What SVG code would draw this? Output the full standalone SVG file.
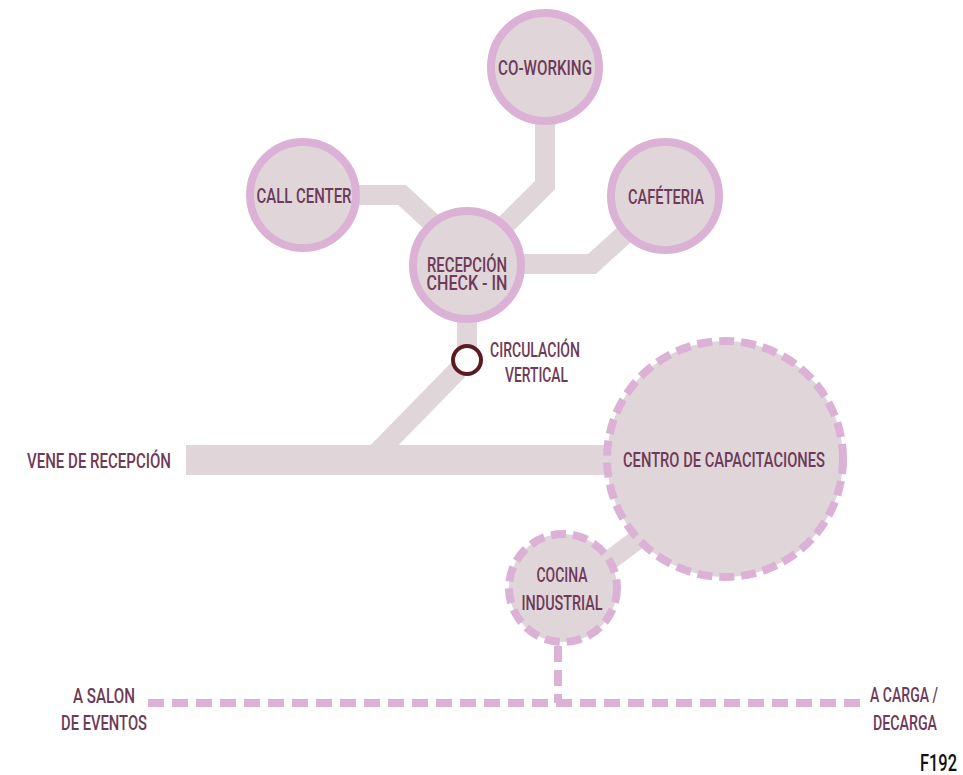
<svg xmlns="http://www.w3.org/2000/svg" width="963" height="775" viewBox="0 0 963 775">
<style>
.lbl{font-family:Roboto,"Liberation Sans",sans-serif;font-weight:500;font-size:20.5px;fill:#6e3a58;text-anchor:middle}
.lft{text-anchor:start}
.rgt{text-anchor:end}
.node{fill:#e0d6d9;stroke:#dcb1d6;stroke-width:8}
.dash{fill:#e0d6d9;stroke:#dcb1d6;stroke-width:8;stroke-dasharray:15 7}
.conn{fill:none;stroke:#e0d6d9;stroke-width:20}
.dline{fill:none;stroke:#dcb1d6;stroke-width:8;stroke-dasharray:16 8}
</style>
<rect width="963" height="775" fill="#ffffff"/>
<g id="connectors">
<polyline class="conn" points="545,115 545,185 495,235"/>
<polyline class="conn" points="355,195 402,195 440,230"/>
<polyline class="conn" points="635,225 592,264 520,264"/>
<polyline class="conn" points="467,318 467,350"/>
<polyline class="conn" points="458,370 370,460"/>
<rect x="186" y="445" width="430" height="30" fill="#e0d6d9"/>
<polyline class="conn" points="650,530 590,575"/>
<polyline class="dline" points="558,646 558,703"/>
<line class="dline" x1="148" y1="703" x2="864" y2="703"/>
</g>
<g id="co-working"><circle class="node" cx="545" cy="67" r="54"/><text class="lbl" x="545" y="75" textLength="94" lengthAdjust="spacingAndGlyphs">CO-WORKING</text></g>
<g id="call-center"><circle class="node" cx="303" cy="195" r="53"/><text class="lbl" x="304" y="203" textLength="95" lengthAdjust="spacingAndGlyphs">CALL CENTER</text></g>
<g id="cafeteria"><circle class="node" cx="665" cy="196" r="54"/><text class="lbl" x="666" y="204" textLength="76" lengthAdjust="spacingAndGlyphs">CAFÉTERIA</text></g>
<g id="recepcion"><circle class="node" cx="467" cy="265" r="54"/><text class="lbl" x="467" y="272" textLength="80" lengthAdjust="spacingAndGlyphs">RECEPCIÓN</text><text class="lbl" x="467" y="290" textLength="81" lengthAdjust="spacingAndGlyphs">CHECK - IN</text></g>
<g id="circulacion"><circle cx="467" cy="360" r="14" fill="#ffffff" stroke="#5c1a24" stroke-width="4"/><text class="lbl lft" x="490" y="357" textLength="90" lengthAdjust="spacingAndGlyphs">CIRCULACIÓN</text><text class="lbl lft" x="505" y="382" textLength="63" lengthAdjust="spacingAndGlyphs">VERTICAL</text></g>
<g id="vene"><text class="lbl lft" x="27" y="468" textLength="144" lengthAdjust="spacingAndGlyphs">VENE DE RECEPCIÓN</text></g>
<g id="centro"><circle class="dash" cx="725" cy="459" r="118"/><text class="lbl" x="724" y="467" textLength="202" lengthAdjust="spacingAndGlyphs">CENTRO DE CAPACITACIONES</text></g>
<g id="cocina"><circle class="dash" cx="563" cy="588" r="54"/><text class="lbl" x="562" y="582" textLength="51" lengthAdjust="spacingAndGlyphs">COCINA</text><text class="lbl" x="562" y="610" textLength="81" lengthAdjust="spacingAndGlyphs">INDUSTRIAL</text></g>
<g id="salon"><text class="lbl rgt" x="135" y="703" textLength="62" lengthAdjust="spacingAndGlyphs">A SALON</text><text class="lbl rgt" x="147" y="730" textLength="86" lengthAdjust="spacingAndGlyphs">DE EVENTOS</text></g>
<g id="carga"><text class="lbl lft" x="870" y="702" textLength="68" lengthAdjust="spacingAndGlyphs">A CARGA /</text><text class="lbl lft" x="873" y="730" textLength="64" lengthAdjust="spacingAndGlyphs">DECARGA</text></g>
<text x="957" y="771" font-family="Roboto,sans-serif" font-weight="500" font-size="24" fill="#111111" text-anchor="end" textLength="37" lengthAdjust="spacingAndGlyphs">F192</text>
</svg>
